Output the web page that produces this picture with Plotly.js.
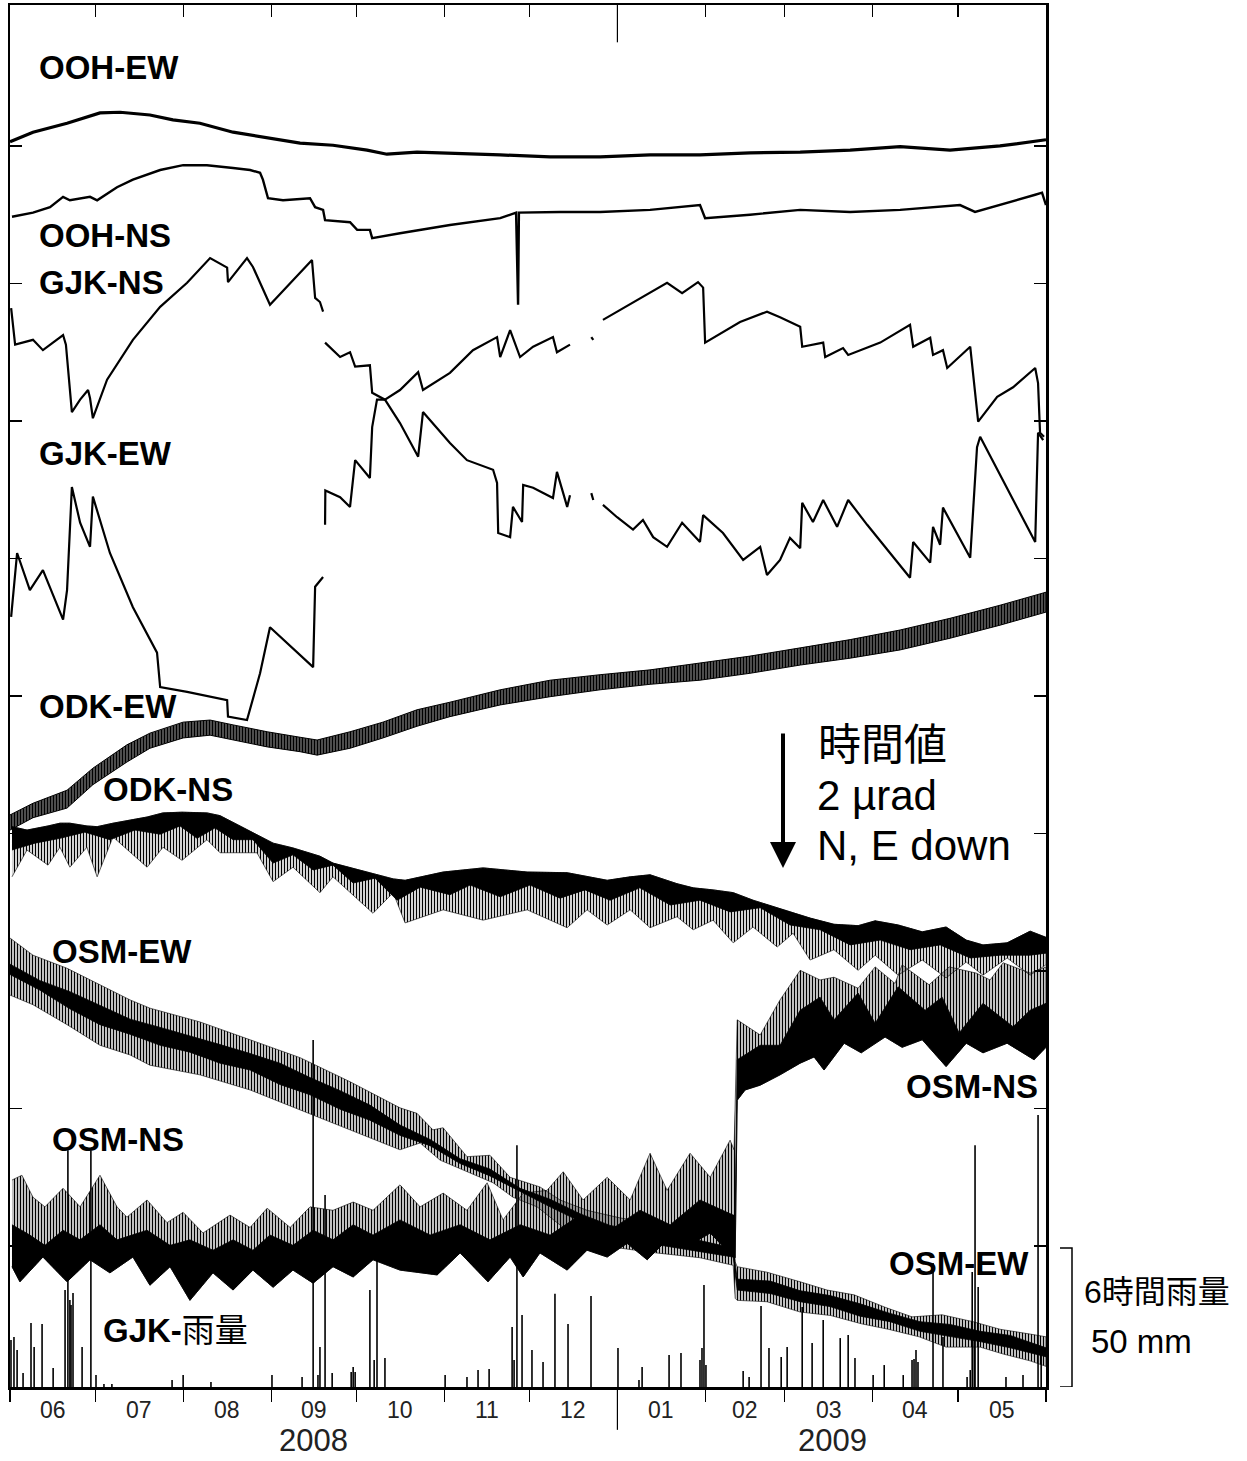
<!DOCTYPE html>
<html><head><meta charset="utf-8">
<script src="https://cdn.plot.ly/plotly-3.0.1.min.js"></script>
<style>html,body{margin:0;padding:0;background:#fff}#chart{width:1247px;height:1461px}</style>
</head><body><div id="chart"></div>
<script>
// ---- time base: days since 2008-06-01 ----
const BASE = Date.UTC(2008, 5, 1);
const DAY = 86400000;

// ---- month axis ----
const monthStarts = ['2008-06-01', '2008-07-01', '2008-08-01', '2008-09-01', '2008-10-01', '2008-11-01', '2008-12-01', '2009-01-01', '2009-02-01', '2009-03-01', '2009-04-01', '2009-05-01', '2009-06-01'];
const monthLabels = ['06', '07', '08', '09', '10', '11', '12', '01', '02', '03', '04', '05'];
const yearLabels = ['2008', '2009'];

// ---- OOH-EW (µrad) ----
const oohEwDay = [0, 8.1, 20.1, 31.7, 38.8, 49.3, 57.4, 66.9, 78.6, 90.6, 102.2, 113.8, 125.8, 132.8, 143.4, 172.7, 190.3, 207.9, 225.5, 243.1, 260.7, 278.4, 296.0, 313.6, 331.2, 348.8, 365];
const oohEwVal = [18.06, 18.20, 18.33, 18.48, 18.49, 18.45, 18.38, 18.33, 18.20, 18.12, 18.04, 18.01, 17.94, 17.88, 17.91, 17.87, 17.84, 17.84, 17.87, 17.87, 17.90, 17.91, 17.94, 17.99, 17.94, 18.00, 18.09];

// ---- OOH-NS ----
const oohNsDay = [0.7, 8.1, 14.1, 18.7, 21.1, 28.2, 30.7, 37.7, 43.3, 52.9, 61.0, 69.4, 78.6, 84.6, 88.1, 89.1, 90.9, 96.2, 105.7, 107.5, 110.3, 111.0, 119.8, 122.3, 126.8, 127.6, 137.4, 144.5, 155.0, 172.7, 178.3, 179.0, 179.3, 193.8, 207.9, 225.5, 243.1, 244.9, 260.7, 278.4, 296.0, 313.6, 334.7, 340.0, 348.8, 361.2, 363.6, 365];
const oohNsVal = [16.97, 17.03, 17.11, 17.26, 17.21, 17.26, 17.21, 17.40, 17.51, 17.65, 17.72, 17.72, 17.68, 17.65, 17.61, 17.51, 17.24, 17.21, 17.24, 17.11, 17.07, 16.92, 16.89, 16.78, 16.78, 16.66, 16.73, 16.78, 16.85, 16.95, 17.03, 15.69, 17.03, 17.04, 17.04, 17.07, 17.14, 16.95, 17.00, 17.07, 17.04, 17.07, 17.14, 17.04, 17.14, 17.29, 17.32, 17.14];

// ---- GJK-NS ----
const gjkNsDay = [0.4, 1.8, 8.1, 11.6, 18.7, 19.7, 21.8, 24.7, 27.5, 28.2, 29.2, 34.2, 43.3, 52.9, 62.4, 70.5, 76.5, 76.8, 83.5, 85.6, 91.6, 102.2, 106.4, 107.5, 109.2, 110.3, null, 111.0, 116.3, 119.8, 121.6, 126.8, 127.6, 132.1, 137.4, 143.8, 145.5, 155.0, 161.0, 170.2, 171.6, 172.0, 176.2, 177.2, 180.4, 180.8, 184.3, 191.3, 192.7, 194.9, 196.3, 197.3, null, 204.8, 205.5, null, 208.9, 213.9, 219.5, 223.0, 226.6, 231.5, 236.8, 243.1, 244.2, 251.2, 258.3, 264.3, 266.7, 271.3, 274.8, 278.4, 279.1, 282.9, 286.5, 291.4, 295.3, 302.0, 317.1, 318.2, 324.2, 325.2, 327.7, 328.7, 338.3, 340.7, 341.8, 347.8, 354.8, 361.2, 362.2, 364.0];
const gjkNsVal = [15.64, 15.11, 15.18, 15.03, 15.25, 15.11, 14.13, 14.31, 14.45, 14.33, 14.04, 14.60, 15.18, 15.66, 16.01, 16.37, 16.23, 16.02, 16.37, 16.24, 15.69, 16.15, 16.34, 15.79, 15.73, 15.59, null, 15.14, 14.93, 15.00, 14.79, 14.81, 14.41, 14.31, 13.97, 13.48, 14.13, 13.68, 13.43, 13.29, 13.10, 12.37, 12.31, 12.75, 12.53, 13.07, 13.03, 12.88, 13.26, 12.95, 12.75, 12.92, null, 12.95, 12.85, null, 12.78, 12.60, 12.42, 12.56, 12.31, 12.17, 12.52, 12.24, 12.63, 12.37, 11.98, 12.17, 11.76, 11.98, 12.30, 12.15, 12.81, 12.53, 12.85, 12.46, 12.85, 12.49, 11.72, 12.24, 11.94, 12.46, 12.20, 12.74, 12.01, 13.62, 13.77, 13.29, 12.75, 12.24, 13.83, 13.72];

// ---- GJK-EW ----
const gjkEwDay = [0.4, 2.5, 7.0, 11.6, 18.7, 20.1, 21.8, 24.7, 28.2, 29.2, 35.2, 43.3, 51.8, 52.9, 62.4, 76.5, 76.8, 83.5, 88.1, 91.6, 106.8, 107.5, 110.3, null, 111.0, 111.1, 116.3, 119.8, 121.6, 126.8, 127.6, 129.3, 132.1, 137.4, 143.8, 145.5, 155.0, 163.1, 171.6, 172.7, 176.2, 179.7, 184.3, 191.3, 192.7, 197.3, null, 204.8, 205.5, null, 208.9, 219.5, 228.9, 231.5, 236.8, 242.4, 244.2, 244.9, 257.2, 266.7, 271.3, 278.4, 279.1, 286.5, 287.2, 293.5, 295.3, 306.6, 317.1, 318.2, 324.2, 325.2, 328.7, 330.2, 338.3, 341.1, 347.8, 353.4, 361.2, 362.2, 362.9, 364.3];
const gjkEwVal = [11.15, 12.08, 11.54, 11.83, 11.11, 11.54, 13.04, 12.52, 12.17, 12.90, 12.08, 11.29, 10.63, 10.13, 10.06, 9.94, 9.70, 9.65, 10.33, 11.00, 10.42, 11.59, 11.73, null, 12.49, 12.99, 12.89, 12.75, 13.43, 13.17, 13.91, 14.31, 14.31, 14.45, 14.71, 14.45, 14.70, 15.03, 15.22, 14.93, 15.32, 14.93, 15.08, 15.22, 15.00, 15.11, null, 15.22, 15.18, null, 15.47, 15.72, 15.95, 16.01, 15.86, 16.02, 15.94, 15.14, 15.44, 15.59, 15.51, 15.37, 15.08, 15.14, 14.93, 15.06, 14.96, 15.14, 15.40, 15.08, 15.21, 14.96, 15.03, 14.77, 15.08, 13.99, 14.35, 14.49, 14.77, 14.55, 13.83, 13.77];

// ---- ODK-EW (tidal band: upper / lower envelope) ----
const odkEwDay = [0, 8.1, 20.1, 29.2, 41.2, 49.3, 61.0, 70.5, 78.6, 90.6, 102.2, 108.2, 119.8, 131.4, 143.4, 155.0, 172.7, 190.3, 207.9, 225.5, 243.1, 260.7, 278.4, 296.0, 313.6, 331.2, 348.8, 365];
const odkEwTop = [8.27, 8.44, 8.63, 8.95, 9.29, 9.46, 9.62, 9.65, 9.58, 9.48, 9.40, 9.36, 9.48, 9.62, 9.80, 9.91, 10.09, 10.23, 10.31, 10.38, 10.48, 10.58, 10.70, 10.82, 10.96, 11.13, 11.32, 11.51];
const odkEwBot = [8.05, 8.23, 8.37, 8.71, 9.04, 9.24, 9.39, 9.43, 9.36, 9.26, 9.19, 9.14, 9.24, 9.39, 9.56, 9.70, 9.87, 9.99, 10.09, 10.17, 10.23, 10.33, 10.45, 10.55, 10.67, 10.84, 11.03, 11.22];

// ---- ODK-NS (envelope + dense core) ----
const odkNsDay = [0.7, 6.0, 13.4, 17.6, 21.1, 27.1, 30.7, 36.3, 48.3, 53.9, 60.6, 69.4, 74.0, 87.0, 92.7, 99.7, 109.2, 113.8, 127.9, 135.0, 139.2, 152.6, 166.7, 182.2, 196.3, 203.3, 210.4, 218.5, 225.5, 235.0, 240.7, 247.7, 254.8, 261.8, 270.3, 275.9, 281.9, 290.3, 298.8, 304.8, 312.9, 321.4, 329.8, 336.9, 342.8, 351.3, 359.4, 365.0];
const odkNsTop = [8.10, 8.05, 8.11, 8.15, 8.15, 8.11, 8.10, 8.15, 8.24, 8.30, 8.31, 8.30, 8.26, 7.98, 7.86, 7.79, 7.67, 7.57, 7.41, 7.34, 7.32, 7.44, 7.50, 7.44, 7.43, 7.37, 7.32, 7.37, 7.40, 7.27, 7.21, 7.18, 7.14, 7.03, 6.92, 6.84, 6.77, 6.68, 6.66, 6.73, 6.67, 6.57, 6.64, 6.45, 6.38, 6.41, 6.58, 6.49];
const odkNsBot = [7.37, 7.76, 7.54, 7.80, 7.51, 7.80, 7.37, 7.95, 7.51, 7.80, 7.61, 7.91, 7.72, 7.72, 7.30, 7.51, 7.14, 7.37, 6.84, 7.14, 6.70, 6.89, 6.74, 6.89, 6.63, 6.89, 6.67, 6.89, 6.63, 6.79, 6.60, 6.74, 6.41, 6.64, 6.35, 6.55, 6.16, 6.31, 6.01, 6.23, 5.94, 6.16, 5.90, 6.13, 5.94, 6.19, 5.94, 6.09];
const odkNsCoreDay = [0.7, 8.8, 17.6, 26.4, 35.2, 44.0, 52.9, 59.9, 65.9, 72.2, 78.6, 85.6, 92.7, 99.7, 106.8, 113.8, 120.9, 128.6, 136.4, 144.5, 155.0, 162.1, 172.7, 183.2, 193.8, 202.6, 211.4, 221.9, 232.6, 243.1, 253.7, 264.3, 274.8, 285.4, 296.0, 306.6, 317.1, 327.7, 338.3, 348.8, 359.4, 365.0];
const odkNsCoreBot = [7.76, 7.86, 7.93, 8.02, 7.91, 8.05, 7.99, 8.11, 7.93, 8.08, 7.91, 7.91, 7.57, 7.69, 7.47, 7.54, 7.28, 7.35, 7.03, 7.22, 7.11, 7.25, 7.08, 7.25, 7.06, 7.18, 7.03, 7.21, 6.96, 7.03, 6.86, 6.92, 6.67, 6.60, 6.38, 6.45, 6.31, 6.38, 6.19, 6.23, 6.23, 6.26];

// ---- OSM-EW (envelope + core) ----
const osmEwTopDay = [0, 8.1, 20.1, 31.7, 42.3, 49.3, 66.9, 84.6, 102.2, 119.8, 137.4, 143.4, 149.0, 152.6, 161.0, 169.1, 176.2, 186.7, 193.8, 203.3, 214.9, 229.0, 243.1, 254.8, 255.5, 256.2, 266.7, 278.4, 287.9, 297.4, 308.3, 317.8, 328.4, 339.3, 348.8, 359.4, 365.0];
const osmEwTop = [6.48, 6.23, 6.04, 5.80, 5.58, 5.46, 5.26, 5.00, 4.74, 4.39, 4.01, 3.93, 3.69, 3.72, 3.30, 3.32, 3.00, 2.86, 2.67, 2.52, 2.41, 2.31, 2.23, 2.12, 1.77, 1.70, 1.62, 1.48, 1.36, 1.29, 1.11, 0.97, 1.00, 0.90, 0.79, 0.72, 0.68];
const osmEwBotDay = [0, 8.1, 20.1, 31.7, 42.3, 49.3, 66.9, 84.6, 102.2, 119.8, 137.4, 144.5, 151.5, 161.0, 170.2, 177.2, 185.7, 194.9, 207.9, 225.5, 243.1, 254.8, 255.5, 256.2, 266.7, 278.4, 289.1, 299.9, 309.4, 320.3, 329.8, 341.8, 349.9, 359.4, 365.0];
const osmEwBot = [5.65, 5.51, 5.22, 4.92, 4.78, 4.63, 4.49, 4.27, 3.98, 3.69, 3.40, 3.50, 3.25, 3.08, 2.92, 2.71, 2.57, 2.27, 2.01, 1.91, 1.83, 1.72, 1.24, 1.21, 1.19, 1.04, 0.99, 0.87, 0.79, 0.68, 0.53, 0.53, 0.43, 0.33, 0.25];
const osmEwCoreDay = [0, 10.6, 21.1, 31.7, 42.3, 52.9, 63.4, 74.0, 84.6, 95.1, 105.7, 116.3, 126.8, 137.4, 148.0, 158.6, 169.1, 179.7, 190.3, 200.8, 211.4, 222.0, 232.6, 243.1, 254.8, 256.2, 267.8, 278.4, 288.9, 299.5, 310.1, 320.6, 331.2, 341.8, 352.4, 365.0];
const osmEwCoreTop = [6.10, 5.86, 5.70, 5.50, 5.30, 5.18, 5.05, 4.93, 4.80, 4.66, 4.45, 4.26, 4.05, 3.76, 3.55, 3.27, 3.12, 2.84, 2.68, 2.47, 2.30, 2.22, 2.16, 2.08, 1.97, 1.52, 1.49, 1.35, 1.28, 1.16, 1.02, 0.90, 0.86, 0.76, 0.70, 0.52];
const osmEwCoreBot = [5.95, 5.72, 5.45, 5.22, 5.08, 4.92, 4.82, 4.66, 4.56, 4.35, 4.20, 3.99, 3.83, 3.61, 3.46, 3.20, 3.02, 2.79, 2.57, 2.36, 2.17, 2.06, 1.99, 1.92, 1.84, 1.36, 1.31, 1.19, 1.12, 0.98, 0.90, 0.76, 0.68, 0.61, 0.52, 0.39];

// ---- OSM-NS (envelope + core) ----
const osmNsTopDay = [0.7, 4.2, 8.1, 12.3, 18.7, 24.7, 31.7, 37.7, 41.2, 48.3, 55.3, 61.0, 68.0, 77.5, 84.6, 90.6, 98.7, 105.7, 113.8, 120.9, 127.9, 137.4, 144.5, 152.6, 161.0, 168.1, 173.7, 180.8, 189.2, 194.9, 201.9, 210.4, 218.5, 225.5, 231.5, 239.6, 246.7, 253.7, 255.1, 256.2, 264.3, 271.3, 278.4, 285.4, 290.3, 298.8, 304.8, 311.8, 314.3, 323.8, 330.9, 340.4, 345.3, 349.9, 359.4, 365.0];
const osmNsTop = [2.96, 3.03, 2.71, 2.57, 2.84, 2.57, 3.03, 2.57, 2.42, 2.67, 2.34, 2.49, 2.19, 2.45, 2.27, 2.55, 2.27, 2.57, 2.52, 2.64, 2.52, 2.89, 2.57, 2.77, 2.52, 2.92, 2.38, 2.77, 2.81, 3.08, 2.67, 3.00, 2.67, 3.35, 2.81, 3.35, 3.00, 3.54, 3.40, 5.29, 5.07, 5.58, 6.01, 5.87, 5.91, 5.75, 6.06, 5.82, 6.09, 5.80, 6.06, 5.97, 5.87, 6.12, 5.97, 6.06];
const osmNsBotDay = [0.7, 3.5, 11.6, 20.1, 28.2, 35.2, 43.3, 49.3, 56.4, 63.4, 71.5, 78.6, 85.6, 92.7, 99.7, 106.8, 113.8, 120.9, 127.9, 137.4, 150.5, 158.6, 168.4, 176.2, 180.8, 186.7, 196.3, 203.3, 210.4, 217.4, 224.5, 231.5, 238.5, 246.7, 254.8, 255.5, 256.2, 259.0, 264.3, 271.3, 278.4, 283.3, 286.8, 293.9, 299.9, 308.3, 314.3, 321.4, 329.8, 336.9, 342.8, 351.3, 360.8, 365.0];
const osmNsBot = [1.70, 1.48, 1.84, 1.48, 1.80, 1.61, 1.84, 1.43, 1.70, 1.21, 1.61, 1.36, 1.65, 1.40, 1.65, 1.46, 1.70, 1.55, 1.80, 1.65, 1.58, 1.90, 1.48, 1.84, 1.55, 1.90, 1.65, 1.94, 1.84, 2.04, 1.80, 2.09, 1.99, 2.19, 1.84, 1.83, 4.12, 4.27, 4.34, 4.49, 4.66, 4.75, 4.56, 4.95, 4.81, 5.04, 4.89, 5.00, 4.61, 4.95, 4.81, 4.95, 4.71, 4.89];
const osmNsCoreDay = [0.7, 7.0, 12.3, 18.7, 24.7, 31.7, 37.7, 48.3, 56.4, 63.4, 71.5, 78.6, 85.6, 91.6, 99.7, 106.8, 113.8, 120.9, 127.9, 137.4, 148.0, 158.6, 169.1, 179.7, 190.3, 200.8, 211.4, 222.0, 232.6, 243.1, 254.8, 255.5, 256.2, 264.3, 271.3, 278.4, 285.4, 290.3, 298.8, 304.8, 312.9, 322.4, 328.4, 334.4, 342.8, 353.4, 359.4, 365.0];
const osmNsCoreTop = [2.31, 2.16, 2.01, 2.23, 2.09, 2.31, 2.09, 2.23, 2.01, 2.09, 1.94, 2.09, 1.94, 2.16, 2.01, 2.23, 2.09, 2.31, 2.16, 2.38, 2.16, 2.31, 2.09, 2.31, 2.16, 2.45, 2.23, 2.52, 2.31, 2.67, 2.45, 2.45, 4.71, 4.92, 4.92, 5.43, 5.62, 5.29, 5.68, 5.24, 5.77, 5.43, 5.62, 5.10, 5.53, 5.19, 5.43, 5.53];

// ---- GJK 6-hour rainfall (mm) ----
const rainDay = [0.35, 1.4, 2.5, 4.6, 7.4, 8.5, 11.3, 15.2, 19.4, 20.4, 21.1, 21.5, 22.2, 25.4, 28.5, 30.3, 33.1, 35.9, 57.1, 61.0, 70.8, 92.3, 102.9, 106.8, 108.5, 109.2, 111.0, 113.5, 120.2, 120.9, 121.6, 126.8, 128.3, 129.3, 132.1, 153.3, 161.0, 164.9, 168.8, 176.9, 177.6, 178.6, 180.4, 183.9, 187.8, 192.0, 196.6, 204.7, 214.2, 221.6, 222.7, 232.2, 236.4, 243.1, 243.8, 244.5, 245.2, 258.3, 260.4, 264.6, 267.4, 271.7, 273.8, 279.1, 282.6, 286.5, 292.5, 295.3, 297.7, 304.1, 308.0, 314.7, 317.8, 318.5, 319.2, 319.9, 325.2, 328.7, 337.2, 338.3, 339.0, 339.7, 340.0, 341.1, 350.9, 356.9, 362.2, 363.3];
const rainMm = [16.9, 18.0, 13.3, 5.0, 23.0, 14.4, 22.7, 6.8, 34.9, 85.2, 31.3, 29.5, 33.8, 14.4, 85.2, 4.3, 1.1, 1.1, 2.5, 4.3, 1.8, 4.3, 3.6, 124.8, 4.3, 14.4, 69.1, 5.0, 5.4, 7.2, 5.4, 34.9, 9.7, 48.2, 10.4, 4.3, 3.6, 6.1, 6.5, 21.6, 9.7, 87.0, 25.9, 13.3, 9.0, 33.5, 22.7, 32.7, 14.0, 2.5, 7.2, 11.5, 12.2, 9.7, 14.0, 36.7, 7.9, 5.8, 3.6, 29.1, 14.0, 10.8, 14.4, 28.8, 15.8, 24.1, 17.6, 18.7, 10.4, 4.3, 7.9, 4.3, 9.7, 10.1, 13.3, 9.0, 44.6, 18.0, 3.6, 6.1, 41.4, 20.5, 87.0, 36.0, 3.6, 4.3, 97.8, 14.0];

// ---- axis ticks ----
const yTickVals = [2, 4, 6, 8, 10, 12, 14, 16, 18];

// ---------------------------------------------------------------
const t = d => (d === null ? null : BASE + d * DAY);
const tx = a => a.map(t);

function poly(xTop, yTop, xBot, yBot) {
  return {
    x: tx(xTop).concat(tx(xBot.slice().reverse())),
    y: yTop.concat(yBot.slice().reverse())
  };
}
function bandTrace(p, solidity, lw) {
  return {
    type: 'scatter', mode: 'lines', x: p.x, y: p.y, fill: 'toself',
    fillcolor: '#000',
    fillpattern: { shape: '|', size: 3, solidity: solidity, fgcolor: '#000', fgopacity: 1 },
    line: { color: '#000', width: lw }, hoverinfo: 'skip', showlegend: false
  };
}
function coreTrace(p) {
  return {
    type: 'scatter', mode: 'lines', x: p.x, y: p.y, fill: 'toself',
    fillcolor: '#000', line: { color: '#000', width: 0.8 }, hoverinfo: 'skip', showlegend: false
  };
}
function lineTrace(xd, yv, w) {
  return {
    type: 'scatter', mode: 'lines', x: tx(xd), y: yv, connectgaps: false,
    line: { color: '#000', width: w }, hoverinfo: 'skip', showlegend: false
  };
}

// rain as vertical sticks
const rx = [], ry = [];
rainDay.forEach((d, i) => { rx.push(t(d), t(d), null); ry.push(0, rainMm[i], null); });

const traces = [
  { type: 'scatter', mode: 'lines', x: rx, y: ry, yaxis: 'y2', line: { color: '#000', width: 1.6 }, hoverinfo: 'skip', showlegend: false },
  bandTrace(poly(odkEwDay, odkEwTop, odkEwDay, odkEwBot), 0.8, 1),
  bandTrace(poly(odkNsDay, odkNsTop, odkNsDay, odkNsBot), 0.45, 0.6),
  coreTrace(poly(odkNsDay, odkNsTop, odkNsCoreDay, odkNsCoreBot)),
  bandTrace(poly(osmEwTopDay, osmEwTop, osmEwBotDay, osmEwBot), 0.5, 0.6),
  coreTrace(poly(osmEwCoreDay, osmEwCoreTop, osmEwCoreDay, osmEwCoreBot)),
  bandTrace(poly(osmNsTopDay, osmNsTop, osmNsBotDay, osmNsBot), 0.5, 0.6),
  coreTrace(poly(osmNsCoreDay, osmNsCoreTop, osmNsBotDay, osmNsBot)),
  lineTrace(oohEwDay, oohEwVal, 3.2),
  lineTrace(oohNsDay, oohNsVal, 2.4),
  lineTrace(gjkNsDay, gjkNsVal, 2.2),
  lineTrace(gjkEwDay, gjkEwVal, 2.2),
  { type: 'scatter', mode: 'markers', x: [BASE], y: [null], xaxis: 'x2', marker: { opacity: 0 }, hoverinfo: 'skip', showlegend: false }
];

const xRange = [BASE, BASE + 365 * DAY];
const yearTick = Date.parse('2009-01-01');
const F = 'Liberation Sans, Arial, Helvetica, "Noto Sans CJK JP", sans-serif';

function lab(text, px, py, anchor, size, color) {
  return {
    xref: 'paper', yref: 'paper', x: (px - 10) / 1036, y: (1387 - py) / 1382,
    xanchor: anchor || 'left', yanchor: 'middle', showarrow: false,
    text: text, font: { family: F, size: size || 33, color: color || '#000' }
  };
}

const annotations = [
  lab('<b>OOH-EW</b>', 37, 67),
  lab('<b>OOH-NS</b>', 37, 235),
  lab('<b>GJK-NS</b>', 37, 283),
  lab('<b>GJK-EW</b>', 37, 453),
  lab('<b>ODK-EW</b>', 37, 706),
  lab('<b>ODK-NS</b>', 101, 789),
  lab('<b>OSM-EW</b>', 50, 951),
  lab('<b>OSM-NS</b>', 50, 1139),
  lab('<b>GJK-</b>雨量', 101, 1330),
  lab('<b>OSM-NS</b>', 1040, 1086, 'right'),
  lab('<b>OSM-EW</b>', 1031, 1263, 'right'),
  lab('時間値', 816, 745, 'left', 43),
  lab('2 µrad', 815, 795, 'left', 42),
  lab('N, E down', 815, 845, 'left', 42),
  lab('6時間雨量', 1082, 1292, 'left', 32),
  lab('50 mm', 1089, 1341, 'left', 33),
  lab(yearLabels[0], 313, 1440, 'center', 31, '#222'),
  lab(yearLabels[1], 832, 1440, 'center', 31, '#222'),
  {
    xref: 'paper', yref: 'paper', x: (783 - 10) / 1036, y: (1387 - 868) / 1382,
    ax: 0, ay: -136, text: '', showarrow: true, arrowhead: 2, arrowsize: 1.3,
    arrowwidth: 4, arrowcolor: '#000', standoff: 0, startstandoff: 0
  }
];
// month labels centred in each month
monthLabels.forEach((m, i) => {
  const a = Date.parse(monthStarts[i]), b = Date.parse(monthStarts[i + 1]);
  annotations.push({
    xref: 'x', yref: 'paper', x: (a + b) / 2, y: (1387 - 1410) / 1382,
    xanchor: 'center', yanchor: 'middle', showarrow: false, text: m,
    font: { family: F, size: 23, color: '#222' }
  });
});

const shapes = [
  { type: 'line', xref: 'x', yref: 'paper', x0: yearTick, x1: yearTick, y0: 0, y1: -0.031, line: { color: '#000', width: 1.2 } },
  { type: 'line', xref: 'x', yref: 'paper', x0: yearTick, x1: yearTick, y0: 1, y1: 0.973, line: { color: '#000', width: 1.2 } },
  { type: 'path', xref: 'paper', yref: 'y2', path: 'M 1.0135,0 L 1.0251,0 L 1.0251,50 L 1.0135,50', line: { color: '#000', width: 1.5 } }
];

const layout = {
  width: 1247, height: 1461,
  margin: { l: 10, r: 201, t: 5, b: 74, pad: 0 },
  paper_bgcolor: '#fff', plot_bgcolor: '#fff',
  showlegend: false,
  font: { family: F, color: '#000' },
  xaxis: {
    type: 'date', range: xRange, tickvals: monthStarts.map(s => Date.parse(s)),
    ticks: 'outside', ticklen: 12, tickwidth: 1.2, tickcolor: '#000', showticklabels: false,
    showline: true, linewidth: 2.5, linecolor: '#000', mirror: true,
    showgrid: false, zeroline: false
  },
  xaxis2: {
    type: 'date', overlaying: 'x', side: 'top', range: xRange, tickvals: monthStarts.map(s => Date.parse(s)),
    ticks: 'inside', ticklen: 12, tickwidth: 1.2, tickcolor: '#000',
    showticklabels: false, showline: false, showgrid: false, zeroline: false
  },
  yaxis: {
    range: [-0.05, 20.05], tickvals: yTickVals, ticks: 'inside', ticklen: 12, tickwidth: 1.2, tickcolor: '#000',
    showticklabels: false, showline: true, linewidth: 2.5, linecolor: '#000', mirror: 'ticks',
    showgrid: false, zeroline: false
  },
  yaxis2: { overlaying: 'y', range: [0, 497.1], visible: false, showgrid: false, zeroline: false },
  annotations: annotations,
  shapes: shapes
};

Plotly.newPlot('chart', traces, layout, { staticPlot: true, displayModeBar: false });
</script></body></html>
